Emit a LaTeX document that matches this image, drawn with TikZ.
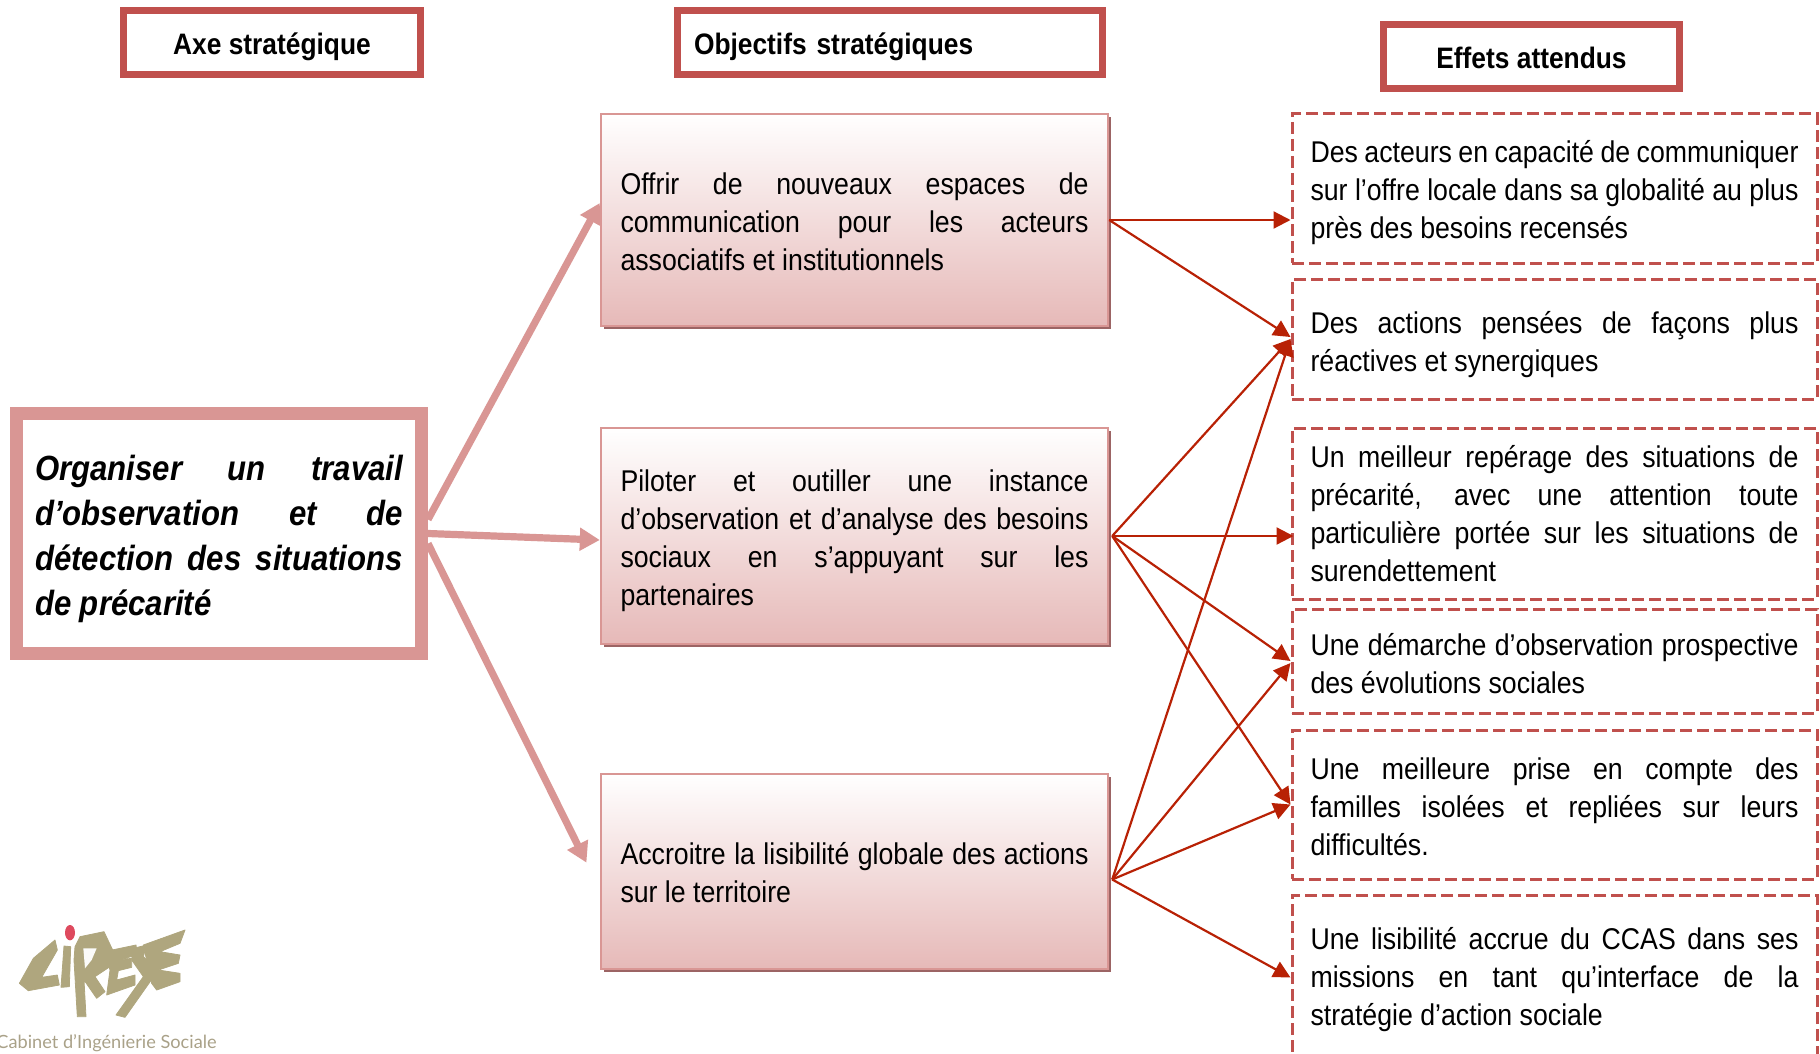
\documentclass[tikz,border=0pt]{standalone}
\usepackage{fontspec}
\setmainfont[FakeStretch=0.89]{Liberation Sans}
\newfontfamily\logofont{Lato}
\usetikzlibrary{arrows.meta,shadows}

\definecolor{headred}{HTML}{C0504D}
\definecolor{softred}{HTML}{D99694}
\definecolor{lowpink}{HTML}{E6B9B8}
\definecolor{shadered}{HTML}{9C6464}
\definecolor{linkred}{HTML}{B82105}
\definecolor{logotan}{HTML}{AFA67E}
\definecolor{logotext}{HTML}{A9A188}
\definecolor{logodot}{HTML}{DE4A5E}

\tikzset{
  textdown/.style={execute at begin node={\rule{0pt}{\dimexpr 0.73em+#1\relax}}},
  headbox/.style={draw=headred,line width=3.5pt,minimum height=32pt,text height=15.5pt,text depth=3.5pt,
    font=\fontsize{14.8}{18}\selectfont\bfseries},
  axebox/.style={draw=softred,line width=6.5pt,text width=184pt,inner xsep=9.25pt,minimum height=120pt,
    align=justify,font=\fontsize{17.5}{22.5}\selectfont\bfseries\itshape},
  objbox/.style={draw=softred,line width=1.2pt,top color=white,bottom color=lowpink,
    general shadow={fill=shadered,shadow xshift=1.5pt,shadow yshift=-1.5pt},
    text width=234pt,inner xsep=9.75pt,align=justify,font=\fontsize{15}{19}\selectfont},
  effbox/.style={draw=headred,line width=1.5pt,dash pattern=on 6pt off 2.5pt,text width=244pt,inner xsep=9.25pt,
    align=justify,font=\fontsize{15}{19}\selectfont},
  biglink/.style={-{Triangle[length=10pt,width=11pt]},draw=softred,line width=3.6pt},
  smalllink/.style={-{Triangle[length=8.5pt,width=8.5pt]},draw=linkred,line width=1.1pt},
  logoshape/.style={fill=logotan,draw=logotan,line width=0.4pt,line join=round}
}

\begin{document}
\begin{tikzpicture}[x=0.5pt,y=-0.5pt]
  \clip (0,0) rectangle (1820,1054);

  % titres
  \node [headbox,minimum width=148.5pt] (headaxe) at (272,42.5) {Axe stratégique};
  \node [headbox,minimum width=212.5pt,align=left,text width=196pt] (headobj) at (890,42.5) {Objectifs stratégiques};
  \node [headbox,minimum width=148pt] (headeff) at (1531.5,57) {Effets attendus};

  % axe
  \node [axebox,textdown=5.8pt] (axe) at (219,533.5) {Organiser un travail\linebreak d’observation et de\linebreak détection des situations\linebreak de précarité};

  % objectifs
  \node [objbox,textdown=1.2pt,minimum height=106pt] (obj1) at (854.5,220) {Offrir de nouveaux espaces de\linebreak communication pour les acteurs\linebreak associatifs et institutionnels};
  \node [objbox,textdown=4.6pt,minimum height=108pt] (obj2) at (854.5,536) {Piloter et outiller une instance\linebreak d’observation et d’analyse des besoins\linebreak sociaux en s’appuyant sur les\linebreak partenaires};
  \node [objbox,textdown=1.2pt,minimum height=97.5pt] (obj3) at (854.5,871.5) {Accroitre la lisibilité globale des actions\linebreak sur le territoire};

  % effets
  \node [effbox,textdown=4.6pt,minimum height=74.5pt] (eff1) at (1554.5,188.5) {Des acteurs en capacité de communiquer\linebreak sur l’offre locale dans sa globalité au plus\linebreak près des besoins recensés};
  \node [effbox,textdown=5.8pt,minimum height=60pt] (eff2) at (1554.5,339) {Des actions pensées de façons plus\linebreak réactives et synergiques};
  \node [effbox,minimum height=85.5pt] (eff3) at (1554.5,513.5) {Un meilleur repérage des situations de\linebreak précarité, avec une attention toute\linebreak particulière portée sur les situations de\linebreak surendettement};
  \node [effbox,textdown=2.3pt,minimum height=52pt] (eff4) at (1554.5,661) {Une démarche d’observation prospective\linebreak des évolutions sociales};
  \node [effbox,textdown=2.3pt,minimum height=74.5pt] (eff5) at (1554.5,804.5) {Une meilleure prise en compte des\linebreak familles isolées et repliées sur leurs\linebreak difficultés.};
  \node [effbox,textdown=2.3pt,minimum height=82.5pt] (eff6) at (1554.5,977.5) {Une lisibilité accrue du CCAS dans ses\linebreak missions en tant qu’interface de la\linebreak stratégie d’action sociale};

  % liens axe - objectifs
  \draw [biglink] ([yshift=7pt]axe.east) -- ([yshift=8.5pt]obj1.west);
  \draw [biglink] (axe.east) -- ([yshift=-2pt]obj2.west);
  \draw [biglink,shorten >=15pt] ([yshift=-5pt]axe.east) -- ([yshift=-9pt]obj3.west);

  % liens objectifs - effets
  \draw [smalllink] (obj1.east) -- (eff1.west |- obj1.east);
  \draw [smalllink] (obj1.east) -- ([yshift=1pt]eff2.west);
  \draw [smalllink] ([xshift=1.5pt]obj2.east) -- (eff2.west);
  \draw [smalllink] ([xshift=1.5pt]obj2.east) -- ([xshift=1.5pt]eff3.west |- obj2.east);
  \draw [smalllink] ([xshift=1.5pt]obj2.east) -- (eff4.west);
  \draw [smalllink] ([xshift=1.5pt]obj2.east) -- (eff5.west);
  \draw [smalllink] ([xshift=1.5pt,yshift=-4pt]obj3.east) -- (eff2.west);
  \draw [smalllink] ([xshift=1.5pt,yshift=-4pt]obj3.east) -- ([yshift=-1pt]eff4.west);
  \draw [smalllink] ([xshift=1.5pt,yshift=-4pt]obj3.east) -- (eff5.west);
  \draw [smalllink] ([xshift=1.5pt,yshift=-4pt]obj3.east) -- (eff6.west);

  % logo
  \begin{scope}[x=0.16667pt,y=-0.16667pt,yshift=-440pt]
    \fill [logodot] (210,158) ellipse (15 and 23);
    \filldraw [logoshape] (165,180) -- (100,235) -- (58,310) -- (85,332) -- (178,315) -- (172,285) -- (125,292) -- (172,210) -- cycle;
    \filldraw [logoshape] (192,198) -- (212,200) -- (208,320) -- (183,322) -- cycle;
    \filldraw [logoshape] (222,240) -- (232,410) -- (258,410) -- (252,300) -- (290,355) -- (315,335) -- (285,290) -- (330,260) -- (338,210) -- (312,155) -- (240,170) -- (225,200) -- cycle;
    \fill [white!95!logotan] (250,205) -- (290,205) -- (275,240) -- (255,265) -- cycle;
    \filldraw [logoshape] (312,215) -- (408,195) -- (412,225) -- (355,240) -- (395,235) -- (395,262) -- (355,272) -- (350,300) -- (405,285) -- (405,315) -- (320,345) -- (330,270) -- cycle;
    \filldraw [logoshape] (400,205) -- (440,195) -- (430,230) -- (475,270) -- (375,412) -- (348,405) -- (430,290) -- (395,240) -- cycle;
    \filldraw [logoshape] (430,195) -- (555,150) -- (540,190) -- (480,215) -- (540,225) -- (535,250) -- (475,270) -- (540,280) -- (540,305) -- (470,330) -- (455,310) -- cycle;
  \end{scope}
  \node [font=\logofont\fontsize{9.1}{11}\selectfont,text=logotext,inner sep=0pt,anchor=west] (logotxt) at (-4,1043) {Cabinet d’Ingénierie Sociale};
\end{tikzpicture}
\end{document}
